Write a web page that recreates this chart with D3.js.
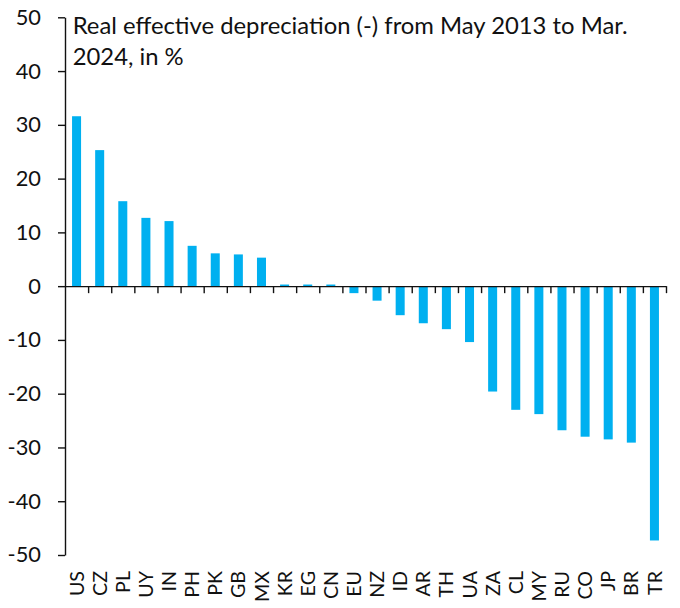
<!DOCTYPE html>
<html>
<head>
<meta charset="utf-8">
<script src="https://cdn.jsdelivr.net/npm/d3@7"></script>
<style>
	body { margin: 0; background: #fff; }
	text { font-family: "Lato", "Open Sans", sans-serif; fill: #111; }
</style>
</head>
<body>
<div id="chart"></div>
<script>

// data
var countries = ["US", "CZ", "PL", "UY", "IN", "PH", "PK", "GB", "MX", "KR", "EG", "CN", "EU",
	"NZ", "ID", "AR", "TH", "UA", "ZA", "CL", "MY", "RU", "CO", "JP", "BR", "TR"];
var depreciation = [31.6, 25.3, 15.8, 12.7, 12.1, 7.5, 6.1, 5.9, 5.3, 0.3, 0.3, 0.3, -1.3,
	-2.7, -5.4, -6.9, -8.0, -10.4, -19.6, -23.0, -23.8, -26.8, -28.0, -28.5, -29.1, -47.3];
var yTicks = [-50, -40, -30, -20, -10, 0, 10, 20, 30, 40, 50];
var titleLines = ["Real effective depreciation (-) from May 2013 to Mar.", "2024, in %"];

var data = countries.map(function (c, i) {
	return {code: c, value: depreciation[i]};
});

// size and plot edges
var width = 680, height = 608;
var plot = {left: 65, right: 666, top: 17.3, bottom: 555};

// font size that makes the widest text of sel fit a given pixel width
function fitFont(sel, target) {
	var w = d3.max(sel.nodes(), function (n) { return n.getComputedTextLength(); });
	var size = parseFloat(sel.attr("font-size"));
	return (size * target / w).toFixed(2);
}

var svg = d3.select("#chart")
	.append("svg")
	.attr("width", width)
	.attr("height", height);

// scales
var x = d3.scaleBand()
	.domain(countries)
	.range([plot.left, plot.right])
	.paddingInner(0.61)
	.paddingOuter(0.305);

var xEdges = d3.scaleLinear()
	.domain([0, countries.length])
	.range([plot.left, plot.right]);

var y = d3.scaleLinear()
	.domain([-50, 50])
	.range([plot.bottom, plot.top]);

// bars
svg.selectAll(".bar")
	.data(data)
	.enter()
	.append("rect")
	.attr("class", "bar")
	.attr("x", function (d) { return x(d.code); })
	.attr("width", x.bandwidth())
	.attr("y", function (d) { return y(Math.max(0, d.value)); })
	.attr("height", function (d) { return Math.abs(y(d.value) - y(0)); })
	.attr("fill", "#00b0f0");

// y axis (plain hyphen for negatives, like the source)
var yAxis = svg.append("g")
	.attr("transform", "translate(" + plot.left + ",0)")
	.call(d3.axisLeft(y)
		.tickValues(yTicks)
		.tickFormat(function (d) { return String(d); })
		.tickSize(7)
		.tickSizeOuter(0)
		.tickPadding(17));

yAxis.select(".domain").attr("stroke", "#111").attr("stroke-width", 1.4);
yAxis.selectAll(".tick line").attr("stroke", "#111").attr("stroke-width", 1.4);
var yLabels = yAxis.selectAll(".tick text")
	.attr("font-family", null)
	.attr("font-size", 22)
	.attr("fill", "#111");
yLabels.attr("font-size", fitFont(yLabels.filter(function (d) { return d === 50; }), 25.3));

// x axis at zero, ticks between categories
var xAxis = svg.append("g")
	.attr("transform", "translate(0," + y(0) + ")")
	.call(d3.axisBottom(xEdges)
		.tickValues(d3.range(1, countries.length + 1))
		.tickFormat("")
		.tickSize(7)
		.tickSizeOuter(0));

xAxis.select(".domain").attr("stroke", "#111").attr("stroke-width", 1.4);
xAxis.selectAll(".tick line").attr("stroke", "#111").attr("stroke-width", 1.4);

// category labels, rotated
var catLabels = svg.append("g")
	.selectAll("text")
	.data(countries)
	.enter()
	.append("text")
	.attr("font-size", 22)
	.attr("text-anchor", "end")
	.attr("dy", "0.36em")
	.attr("transform", function (d) {
		return "translate(" + (x(d) + x.bandwidth() / 2) + ",571) rotate(-90)";
	})
	.text(function (d) { return d; });
catLabels.attr("font-size", fitFont(catLabels.filter(function (d) { return d === "MX"; }), 31));

// title
var title = svg.append("g")
	.selectAll("text")
	.data(titleLines)
	.enter()
	.append("text")
	.attr("x", 72.7)
	.attr("y", function (d, i) { return 34 + i * 31; })
	.attr("font-size", 22)
	.text(function (d) { return d; });
title.attr("font-size", fitFont(title, 555));

</script>
</body>
</html>
